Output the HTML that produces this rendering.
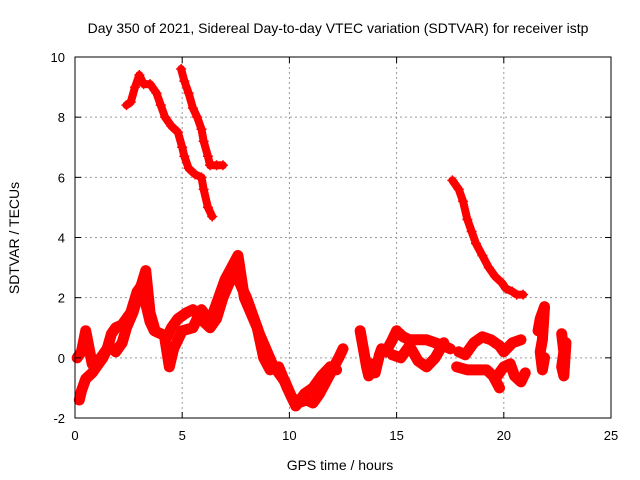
<!DOCTYPE html>
<html><head><meta charset="utf-8"><style>
body{margin:0;background:#fff}
svg{display:block;font-family:"Liberation Sans",sans-serif}
</style></head><body>
<svg id="chart" width="640" height="480">
<rect width="640" height="480" fill="#fff"/>
<g id="grid"></g><g id="series"></g><g id="axes"></g>
</svg>
<script>
const xTicks=[0,5,10,15,20,25];
const yTicks=[-2,0,2,4,6,8,10];
const trackA=[[2.4,8.4],[2.6,8.5],[2.8,9.0],[3.0,9.4],[3.2,9.1],[3.5,9.1],[3.8,8.8],[4.0,8.4],[4.2,8.0],[4.5,7.7],[4.8,7.5],[5.0,7.0],[5.1,6.7],[5.3,6.3],[5.6,6.1],[5.9,6.0],[6.0,5.6],[6.2,5.0],[6.4,4.7]];
const trackB=[[4.95,9.6],[5.1,9.2],[5.3,8.8],[5.5,8.3],[5.7,8.0],[5.9,7.6],[6.0,7.2],[6.2,6.7],[6.3,6.4],[6.6,6.4],[6.9,6.4]];
const trackC=[[17.6,5.9],[17.9,5.6],[18.1,5.2],[18.3,4.6],[18.5,4.2],[18.7,3.8],[19.0,3.4],[19.3,3.0],[19.6,2.7],[19.9,2.5],[20.1,2.3],[20.4,2.2],[20.6,2.1],[20.9,2.1]];
const trackD=[[0.2,-1.4],[0.3,-1.1],[0.5,-0.7],[0.8,-0.5],[1.0,-0.3],[1.3,0.0],[1.5,0.3],[1.7,0.8],[1.9,1.0],[2.2,1.1],[2.6,1.5],[2.9,2.2],[3.1,2.4],[3.3,1.8],[3.5,1.2],[3.7,0.9],[4.0,0.8],[4.3,0.7],[4.5,1.0],[4.8,1.3],[5.2,1.5],[5.5,1.6],[5.8,1.4],[6.0,1.2],[6.3,1.0],[6.6,1.3],[6.9,2.0],[7.2,2.5],[7.5,2.8],[7.8,2.3],[8.0,2.0],[8.3,1.4],[8.6,0.8],[8.9,0.3],[9.2,-0.2],[9.5,-0.5],[9.8,-0.8],[10.1,-1.3],[10.4,-1.5],[10.8,-1.4],[11.1,-1.5],[11.4,-1.2],[11.7,-0.8],[12.0,-0.4],[12.3,0.0],[12.5,0.3]];
const trackE=[[0.1,0.0],[0.3,0.2],[0.5,0.9],[0.8,-0.2],[1.2,0.0],[1.6,0.4],[1.9,0.2],[2.2,0.5],[2.4,1.0],[2.7,1.5],[3.0,2.2],[3.3,2.9],[3.5,1.5],[3.7,1.0]];
const trackF=[[4.2,0.6],[4.4,-0.3],[4.6,0.3],[5.0,0.9],[5.5,1.0],[5.9,1.6],[6.3,1.2],[6.7,2.0],[7.0,2.6],[7.3,3.0],[7.6,3.4],[7.9,2.0],[8.2,1.5],[8.5,1.0],[8.8,0.0],[9.1,-0.4],[9.5,-0.3],[9.9,-1.0],[10.3,-1.6],[10.7,-1.2],[11.1,-1.0],[11.5,-0.6],[11.9,-0.3],[12.2,-0.4]];
const trackH=[[13.3,0.9],[13.4,0.5],[13.5,0.1],[13.6,-0.3],[13.7,-0.6],[13.8,-0.2]];
const trackI=[[14.0,-0.5],[14.1,-0.2],[14.2,0.1],[14.3,0.3]];
const trackJ=[[14.5,0.2],[14.8,0.6],[15.0,0.9],[15.3,0.7],[15.6,0.6],[16.0,0.6],[16.4,0.6],[16.8,0.5],[17.2,0.4],[17.5,0.3]];
const trackK=[[14.8,0.1],[15.2,0.0],[15.6,0.4],[16.0,-0.1],[16.4,-0.3],[16.8,0.0],[17.2,0.5]];
const trackL=[[17.9,0.2],[18.2,0.1],[18.6,0.5],[19.0,0.7],[19.4,0.6],[19.8,0.4],[20.0,0.2],[20.4,0.5],[20.8,0.6]];
const trackM=[[17.8,-0.3],[18.3,-0.4],[18.8,-0.4],[19.2,-0.4],[19.5,-0.6],[19.8,-1.0]];
const trackN=[[19.7,-0.6],[20.0,-0.3],[20.3,-0.2],[20.5,-0.6],[20.8,-0.8],[21.0,-0.5]];
const trackO=[[21.6,0.9],[21.7,1.3],[21.9,1.7],[21.8,0.6],[21.7,0.2],[21.8,-0.4],[21.9,0.0]];
const trackP=[[22.7,0.8],[22.8,0.2],[22.7,-0.3],[22.8,-0.6],[22.9,0.5]];
const topTracks=[trackA,trackB,trackC];
const lowTracks=[trackD,trackE,trackF,trackH,trackI,trackJ,trackK,trackL,trackM,trackN,trackO,trackP];

const X0=75,X1=611,Y0=418,Y1=57;
const sx=v=>X0+(v-0)/25*(X1-X0);
const sy=v=>Y0-(v+2)/12*(Y0-Y1);
const NS='http://www.w3.org/2000/svg';
function mk(t,a,p){const e=document.createElementNS(NS,t);for(const k in a)e.setAttribute(k,a[k]);p.appendChild(e);return e;}
const grid=document.getElementById('grid'),axes=document.getElementById('axes'),ser=document.getElementById('series');
xTicks.forEach(t=>{
  if(t>0&&t<25){const g=mk('line',{x1:sx(t),x2:sx(t),y1:Y1,y2:Y0,stroke:'#999','stroke-dasharray':'2,3'},grid);
  
  }
  const l=mk('text',{x:sx(t),y:Y0+22,'text-anchor':'middle','font-size':'13'},axes);l.textContent=t;
  
  
  mk('line',{x1:sx(t),x2:sx(t),y1:Y0,y2:Y0-6,stroke:'#000'},axes);
  mk('line',{x1:sx(t),x2:sx(t),y1:Y1,y2:Y1+6,stroke:'#000'},axes);
});
yTicks.forEach(t=>{
  if(t>-2&&t<10){const g=mk('line',{x1:X0,x2:X1,y1:sy(t),y2:sy(t),stroke:'#999','stroke-dasharray':'2,3'},grid);
  
  }
  const l=mk('text',{x:X0-10,y:sy(t)+5,'text-anchor':'end','font-size':'13'},axes);l.textContent=t;
  
  
  mk('line',{x1:X0,x2:X0+6,y1:sy(t),y2:sy(t),stroke:'#000'},axes);
  mk('line',{x1:X1,x2:X1-6,y1:sy(t),y2:sy(t),stroke:'#000'},axes);
});
const frame=mk('rect',{x:X0,y:Y1,width:X1-X0,height:Y0-Y1,fill:'none',stroke:'#000'},axes);


function drawTrack(tr,w){
  const pl=mk('polyline',{points:tr.map(p=>sx(p[0])+','+sy(p[1])).join(' '),fill:'none',stroke:'#f00','stroke-width':w,'stroke-linejoin':'round','stroke-linecap':'round'},ser);
  
  
  tr.forEach(p=>{const x=sx(p[0]),y=sy(p[1]);
    const m=mk('path',{d:`M${x-5},${y}H${x+5}M${x},${y-5}V${y+5}`,stroke:'#f00','stroke-width':'1.5'},ser);
    
    
  });
}
topTracks.forEach(tr=>drawTrack(tr,8));
lowTracks.forEach(tr=>drawTrack(tr,11));
const tt=mk('text',{x:338,y:33,'text-anchor':'middle','font-size':'14'},axes);
tt.textContent='Day 350 of 2021, Sidereal Day-to-day VTEC variation (SDTVAR) for receiver istp';


const xl=mk('text',{x:340,y:470,'text-anchor':'middle','font-size':'14'},axes);
xl.textContent='GPS time / hours';


const yl=mk('text',{x:0,y:0,'text-anchor':'middle','font-size':'14',transform:'translate(19,238) rotate(-90)'},axes);
yl.textContent='SDTVAR / TECUs';


</script>
</body></html>
